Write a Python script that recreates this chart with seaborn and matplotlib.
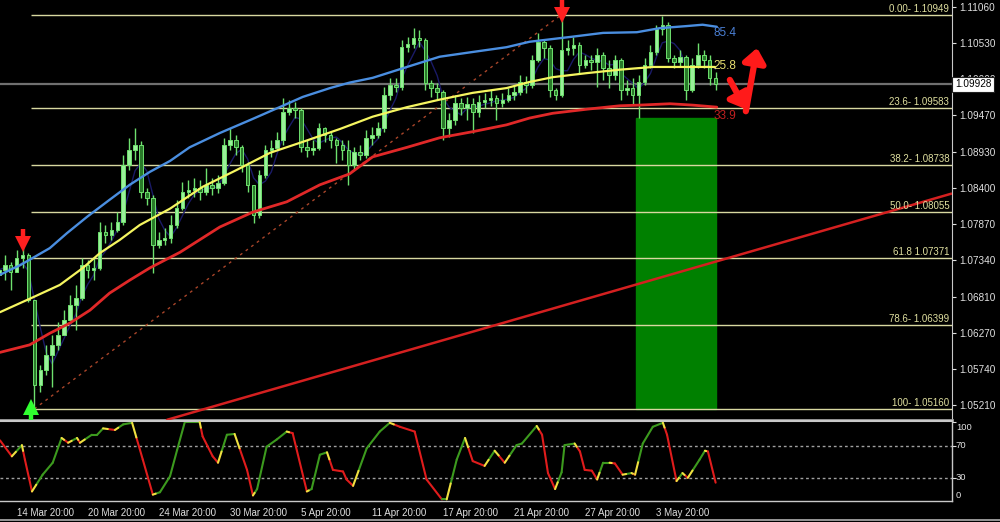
import numpy as np
import pandas as pd
import matplotlib
matplotlib.use("Agg")
import matplotlib.pyplot as plt
import matplotlib.transforms as mtransforms
from matplotlib.patches import Rectangle
from matplotlib.lines import Line2D
import seaborn as sns

sns.set_style("dark", {"axes.facecolor": "black", "figure.facecolor": "black"})
plt.rcParams['font.family'] = ['Liberation Sans', 'DejaVu Sans']

# ---- price data (H4 candles, one entry per candle) ----
first_open = 1.0713
close = [
    1.0720, 1.0727, 1.0717, 1.0737, 1.0742, 1.0676, 1.0551, 1.0573, 1.0595, 1.0610,
    1.0625, 1.0647, 1.0669, 1.0679, 1.0727, 1.0720, 1.0723, 1.0776, 1.0771, 1.0779,
    1.0790, 1.0874, 1.0896, 1.0903, 1.0835, 1.0826, 1.0757, 1.0764, 1.0767, 1.0786,
    1.0811, 1.0835, 1.0837, 1.0840, 1.0835, 1.0845, 1.0840, 1.0848, 1.0903, 1.0911,
    1.0901, 1.0874, 1.0845, 1.0801, 1.0860, 1.0896, 1.0899, 1.0911, 1.0952, 1.0958,
    1.0955, 1.0901, 1.0896, 1.0899, 1.0928, 1.0918, 1.0911, 1.0903, 1.0896, 1.0874,
    1.0893, 1.0889, 1.0914, 1.0918, 1.0928, 1.0977, 1.0992, 1.0989, 1.1047, 1.1052,
    1.1061, 1.1058, 1.0995, 1.0987, 1.0981, 1.0928, 1.0940, 1.0965, 1.0958, 1.0964,
    1.0952, 1.0967, 1.0970, 1.0972, 1.0965, 1.0970, 1.0977, 1.0981, 1.0996, 1.0992,
    1.1028, 1.1055, 1.1046, 1.0984, 1.0977, 1.1043, 1.1046, 1.1050, 1.1021, 1.1028,
    1.1025, 1.1036, 1.1017, 1.1006, 1.1028, 1.0984, 1.0987, 1.0977, 1.0996, 1.1021,
    1.1040, 1.1073, 1.1080, 1.1031, 1.1025, 1.1033, 1.0984, 1.1021, 1.1036, 1.1028,
    1.1002, 1.0993]
high = [
    1.0732, 1.0742, 1.0732, 1.0749, 1.0753, 1.0745, 1.0676, 1.0580, 1.0610, 1.0625,
    1.0644, 1.0661, 1.0683, 1.0698, 1.0738, 1.0735, 1.0738, 1.0790, 1.0786, 1.0790,
    1.0805, 1.0889, 1.0914, 1.0928, 1.0910, 1.0840, 1.0830, 1.0776, 1.0782, 1.0801,
    1.0823, 1.0849, 1.0852, 1.0855, 1.0852, 1.0870, 1.0855, 1.0859, 1.0914, 1.0928,
    1.0918, 1.0903, 1.0879, 1.0845, 1.0867, 1.0903, 1.0911, 1.0922, 1.0972, 1.0970,
    1.0967, 1.0958, 1.0911, 1.0911, 1.0936, 1.0930, 1.0922, 1.0914, 1.0911, 1.0911,
    1.0901, 1.0903, 1.0925, 1.0930, 1.0937, 1.0989, 1.1002, 1.1002, 1.1058, 1.1062,
    1.1075, 1.1072, 1.1061, 1.0999, 1.0995, 1.0984, 1.0950, 1.0977, 1.0972, 1.0974,
    1.0972, 1.0977, 1.0980, 1.0984, 1.0977, 1.0980, 1.0987, 1.0992, 1.1006, 1.1004,
    1.1036, 1.1068, 1.1058, 1.1050, 1.0987, 1.1095, 1.1058, 1.1062, 1.1055, 1.1036,
    1.1036, 1.1046, 1.1040, 1.1028, 1.1036, 1.1031, 1.0999, 1.1002, 1.1006, 1.1031,
    1.1050, 1.1080, 1.1093, 1.1084, 1.1036, 1.1043, 1.1036, 1.1031, 1.1053, 1.1043,
    1.1036, 1.1011]
low = [
    1.0708, 1.0705, 1.0691, 1.0717, 1.0723, 1.0673, 1.0516, 1.0541, 1.0566, 1.0548,
    1.0603, 1.0625, 1.0647, 1.0632, 1.0676, 1.0708, 1.0705, 1.0720, 1.0760, 1.0764,
    1.0776, 1.0786, 1.0867, 1.0881, 1.0826, 1.0815, 1.0716, 1.0752, 1.0757, 1.0760,
    1.0782, 1.0808, 1.0826, 1.0827, 1.0823, 1.0830, 1.0830, 1.0833, 1.0845, 1.0896,
    1.0889, 1.0864, 1.0835, 1.0789, 1.0796, 1.0855, 1.0886, 1.0896, 1.0903, 1.0947,
    1.0943, 1.0893, 1.0886, 1.0889, 1.0896, 1.0908, 1.0899, 1.0877, 1.0881, 1.0845,
    1.0867, 1.0881, 1.0884, 1.0903, 1.0914, 1.0922, 1.0970, 1.0981, 1.0984, 1.1040,
    1.1046, 1.1047, 1.0984, 1.0974, 1.0970, 1.0911, 1.0915, 1.0933, 1.0947, 1.0940,
    1.0921, 1.0945, 1.0958, 1.0961, 1.0940, 1.0959, 1.0967, 1.0970, 1.0977, 1.0980,
    1.0987, 1.1025, 1.1031, 1.0974, 1.0970, 1.0974, 1.1036, 1.1036, 1.1009, 1.1017,
    1.1014, 1.0989, 1.0999, 1.0987, 1.0999, 1.0970, 1.0977, 1.0962, 1.0943, 1.0992,
    1.1017, 1.1036, 1.1065, 1.1025, 1.1017, 1.1020, 1.0970, 1.0981, 1.1017, 1.1017,
    1.0992, 1.0984]

# ---- moving-average envelope curves (candle index, price) ----
blue_x = [0.2, 3.6, 5.8, 8.6, 11.5, 14.9, 18.7, 22.1, 25.5, 28.9, 32.2, 37.3, 42.4, 47.4,
          51.3, 55.9, 59.2, 63.1, 68.9, 74.4, 80.0, 85.7, 89.6, 96.4, 102.0, 107.7,
          111.6, 116.1, 118.8, 121.2]
blue_y = [1.0713, 1.0727, 1.0738, 1.0752, 1.0774, 1.0798, 1.0823, 1.0845, 1.0864, 1.0880,
          1.0900, 1.0921, 1.0940, 1.0959, 1.0974, 1.0987, 1.0995, 1.1002, 1.1018, 1.1033,
          1.1040, 1.1047, 1.1055, 1.1062, 1.1068, 1.1069, 1.1075, 1.1078, 1.1080, 1.1077]
yellow_x = [0.2, 5.8, 10.3, 14.2, 17.1, 20.4, 23.8, 28.9, 34.4, 40.2, 45.8, 51.3, 57.6,
            63.1, 68.9, 74.4, 80.0, 85.7, 89.6, 93.5, 99.3, 104.8, 110.4, 116.1, 120.9]
yellow_y = [1.0658, 1.0680, 1.0698, 1.0723, 1.0745, 1.0764, 1.0786, 1.0810, 1.0842, 1.0867,
            1.0892, 1.0908, 1.0927, 1.0945, 1.0959, 1.0970, 1.0980, 1.0987, 1.0996, 1.1003,
            1.1009, 1.1014, 1.1018, 1.1018, 1.1018]
red_x = [0.2, 5.2, 8.6, 12.0, 15.4, 18.7, 22.1, 25.5, 30.6, 37.3, 42.9, 48.6, 54.2, 59.2,
         63.1, 68.9, 74.4, 80.0, 85.7, 89.6, 93.5, 99.3, 104.8, 108.2, 113.3, 117.1, 121.2]
red_y = [1.0599, 1.0610, 1.0627, 1.0642, 1.0661, 1.0686, 1.0705, 1.0723, 1.0746, 1.0783,
         1.0805, 1.0820, 1.0845, 1.0861, 1.0886, 1.0900, 1.0914, 1.0923, 1.0933, 1.0943,
         1.0950, 1.0956, 1.0961, 1.0962, 1.0964, 1.0962, 1.0959]
ma_labels = ["85.4", "25.8", "33.9"]
ma_label_y = [1.1068, 1.1019, 1.0946]

# ---- fibonacci retracement ----
fib_names = ["0.00- 1.10949", "23.6- 1.09583", "38.2- 1.08738", "50.0- 1.08055",
             "61.8 1.07371", "78.6- 1.06399", "100- 1.05160"]
fib_levels = [1.10949, 1.09583, 1.08738, 1.08055, 1.07371, 1.06399, 1.05160]
fib_anchor_x = [6, 95]
fib_anchor_y = [1.05160, 1.10949]

# signal arrows: candle, tip price, direction (-1 down / +1 up)
sig_x = [4, 95, 5.4]
sig_tip = [1.0752, 1.1088, 1.0526]
sig_dir = [-1, -1, 1]

# trend line anchors, target box, current price
trend_x = [28.4, 160.8]
trend_y = [1.0500, 1.0832]
box_x = [107.5, 121.0]
box_y = [1.0516, 1.0943]
last_price = 1.09928

price_ticks = [1.11060, 1.10530, 1.10000, 1.09470, 1.08930, 1.08400,
               1.07870, 1.07340, 1.06810, 1.06270, 1.05740, 1.05210]
date_pos = [3, 15, 27, 39, 51, 63, 75, 87, 99, 111]
date_labels = ["14 Mar 20:00", "20 Mar 20:00", "24 Mar 20:00", "30 Mar 20:00",
               "5 Apr 20:00", "11 Apr 20:00", "17 Apr 20:00", "21 Apr 20:00",
               "27 Apr 20:00", "3 May 20:00"]

# ---- oscillator ----
stoch_x = [0.2, 2.2, 3.9, 4.4, 5.6, 7.4, 9.1, 10.6, 11.7, 13.2, 13.7, 15.7, 16.6, 17.6, 19.6,
           21.0, 22.5, 24.3, 26.0, 27.2, 28.9, 30.1, 31.4, 33.9, 34.4, 36.1, 37.0, 38.5,
           39.8, 41.9, 42.9, 43.6, 45.2, 46.9, 48.6, 49.6, 52.0, 52.8, 54.2, 55.4, 56.4,
           58.1, 58.7, 59.8, 62.1, 64.3, 66.0, 67.7, 70.2, 72.2, 74.8, 75.6, 77.3, 78.7,
           80.0, 82.0, 83.7, 85.4, 87.4, 88.3, 90.8, 91.7, 92.7, 93.9, 95.0, 95.5, 97.2,
           98.1, 98.9, 100.1, 101.0, 102.0, 103.1, 104.0, 105.3, 106.8, 107.4, 108.7,
           110.4, 112.1, 112.8, 114.4, 115.4, 116.3, 118.3, 119.2, 119.7, 121.0]
stoch_v = [77, 57, 71, 53, 13, 34, 49, 80, 74, 80, 74, 84, 84, 92, 90, 97, 99, 53, 9, 12,
           32, 65, 100, 100, 82, 57, 49, 84, 85, 40, 8, 16, 69, 78, 88, 86, 13, 16, 59, 62,
           40, 38, 28, 20, 67, 88, 99, 94, 88, 28, 3, 3, 53, 80, 51, 45, 64, 49, 71, 73,
           95, 84, 36, 16, 37, 71, 73, 63, 40, 39, 28, 49, 49, 48, 34, 36, 34, 73, 94, 99,
           84, 26, 36, 30, 53, 64, 63, 24]
stoch_levels = [70, 30]

XMIN, XMAX = 0.2, 160.9
PX = 0.0001468  # price per screen pixel, used only for arrow glyph sizes
fig = plt.figure(figsize=(10, 5.22), dpi=100)
ax = fig.add_axes([0, 0.1954, 0.952, 0.8046])
ax2 = fig.add_axes([0, 0.0402, 0.952, 0.1533])
for a in (ax, ax2):
    a.set_facecolor("black")
    a.set_xlim(XMIN, XMAX)

# candles
df = pd.DataFrame({"open": [first_open] + close[:-1], "close": close, "high": high, "low": low})
df["i"] = np.arange(len(df))
up = df["close"] >= df["open"]
ax.add_patch(Rectangle((box_x[0], box_y[0]), box_x[1] - box_x[0], box_y[1] - box_y[0],
                       color="#008000", zorder=1))
ax.vlines(df["i"], df["low"], df["high"], color="#6ee06e", lw=1, zorder=4)
ax.bar(df["i"], df["close"] - df["open"], bottom=df["open"], width=0.6,
       color=np.where(up, "#9af09a", "#2a7a2a"), edgecolor="#6ee06e", linewidth=0.7, zorder=4)

# fib lines and labels
ax.hlines(fib_levels, 5.4, XMAX, color="#d8d8a0", lw=1, zorder=2)
tr = mtransforms.blended_transform_factory(ax.transAxes, ax.transData)
for name, lvl in zip(fib_names, fib_levels):
    ax.text(0.997, lvl + 0.00012, name, transform=tr, ha="right", va="bottom",
            fontsize=7, color="#e0e0a0", zorder=6)
ax.plot(fib_anchor_x, fib_anchor_y, ls=(0, (2, 3)), color="#a8452a", lw=1, zorder=2)

# trend line and current price
ax.plot(trend_x, trend_y, color="#d42020", lw=1.8, zorder=3)
ax.axhline(last_price, color="#707070", lw=1.6, zorder=2)

# MA curves
smooth = pd.Series(close).rolling(4, min_periods=1).mean()
sns.lineplot(x=df["i"], y=smooth, color="#1a1a66", lw=1, ax=ax, zorder=3)
sns.lineplot(x=blue_x, y=blue_y, color="#4a8ee0", lw=1.7, ax=ax, zorder=5)
sns.lineplot(x=yellow_x, y=yellow_y, color="#f5f560", lw=1.6, ax=ax, zorder=5)
sns.lineplot(x=red_x, y=red_y, color="#e02828", lw=2, ax=ax, zorder=5)
for lab, yv, col in zip(ma_labels, ma_label_y, ["#4a7fd4", "#e8e070", "#c02020"]):
    ax.text(120.6, yv, lab, color=col, fontsize=8.5, va="center", ha="left", zorder=6)

# signal arrows (shaft + triangular head)
for sx, tip, dr, col in zip(sig_x, sig_tip, sig_dir, ["#ff2020", "#ff2020", "#30ff30"]):
    head = tip - dr * 4.5 * PX
    ax.plot([sx, sx], [tip - dr * 7 * PX, tip - dr * 19 * PX], color=col, lw=3.2,
            solid_capstyle="butt", zorder=7, clip_on=False)
    ax.plot([sx], [head], marker="v" if dr < 0 else "^", ms=11, mew=0, color=col,
            zorder=7, clip_on=False)

# hand drawn "down then up" arrow
big = dict(arrowstyle="-|>,head_width=0.45,head_length=0.55", lw=4.5, mutation_scale=15,
           color="#ff1a1a", shrinkA=0, shrinkB=0)
ax.annotate("", xy=(126.1, 1.0956), xytext=(123.4, 1.0999), arrowprops=big, zorder=7)
ax.annotate("", xy=(128.0, 1.1046), xytext=(126.1, 1.0953), arrowprops=big, zorder=7)

# price axis
ax.set_ylim(1.04997, 1.11163)
ax.yaxis.tick_right()
ax.set_yticks(price_ticks)
ax.set_yticklabels([f"{p:.5f}" for p in price_ticks])
ax.tick_params(axis="y", colors="#e0e0e0", labelsize=7.2, length=3, width=0.8, pad=2,
               direction="out")
ax.set_xticks([])
ax.set_ylabel("")
ax.text(1.003, last_price, f"{last_price:.5f}", transform=tr, ha="left", va="center",
        fontsize=7.2, color="black", zorder=10,
        bbox=dict(boxstyle="square,pad=0.25", fc="white", ec="#202020", lw=0.8))
for s in ["top", "left"]:
    ax.spines[s].set_visible(False)
ax.spines["right"].set_color("#c8c8c8")
ax.spines["bottom"].set_color("#a0a0a0")
ax.spines["bottom"].set_linewidth(2)

# oscillator panel: green rising, red falling, short yellow piece after each turn
ax2.set_ylim(1, 101.25)
for lv in stoch_levels:
    ax2.axhline(lv, color="#a0a0a0", lw=1, ls=(0, (2, 2)))
prev = 0
for k in range(len(stoch_x) - 1):
    x0, x1 = stoch_x[k], stoch_x[k + 1]
    v0, v1 = stoch_v[k], stoch_v[k + 1]
    d = np.sign(v1 - v0)
    col = "#3c9a1e" if d >= 0 else "#e01c1c"
    if d != prev and k > 0 and d != 0:
        f = 0.4
        xm, vm = x0 + f * (x1 - x0), v0 + f * (v1 - v0)
        ax2.plot([x0, xm], [v0, vm], color="#f0e040", lw=1.5, solid_capstyle="round", zorder=3)
        ax2.plot([xm, x1], [vm, v1], color=col, lw=1.5, solid_capstyle="round", zorder=2)
    else:
        ax2.plot([x0, x1], [v0, v1], color=col, lw=1.5, solid_capstyle="round", zorder=2)
    if d != 0:
        prev = d
ax2.yaxis.tick_right()
ax2.set_yticks([100, 70, 30])
ax2.set_yticklabels([])
ax2.tick_params(axis="y", colors="#e0e0e0", length=3)
tr2 = mtransforms.blended_transform_factory(ax2.transAxes, ax2.transData)
for lab, yv in zip(["100", "70", "30", "0"], [92.5, 70, 30, 7.5]):
    ax2.text(1.004, yv, lab, transform=tr2, ha="left", va="center", fontsize=6.8,
             color="#e0e0e0")
ax2.set_xticks(date_pos)
ax2.set_xticklabels(date_labels)
ax2.tick_params(axis="x", colors="#e0e0e0", labelsize=7, length=3, pad=2, direction="out")
for t in ax2.get_xticklabels():
    t.set_ha("left")
ax2.spines["left"].set_visible(False)
for s in ["top", "right", "bottom"]:
    ax2.spines[s].set_color("#c8c8c8")
    ax2.spines[s].set_linewidth(1)
ax2.spines["top"].set_linewidth(1.5)

fig.add_artist(Line2D([0, 1], [0.004, 0.004], color="#b0b0b0", lw=1.2))
fig.savefig("out.png", dpi=100, facecolor="black")
